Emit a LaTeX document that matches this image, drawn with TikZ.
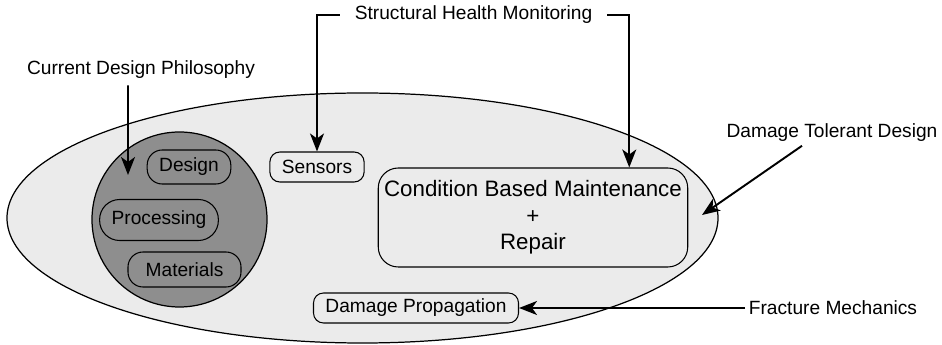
\documentclass[tikz,border=0pt]{standalone}
\usepackage{fontspec}
\setmainfont{Liberation Sans}
\usepackage{tikz}
\usetikzlibrary{arrows.meta, positioning, calc}
\definecolor{myshell}{RGB}{235,235,235}
\definecolor{mycore}{RGB}{142,142,142}
\definecolor{mydark}{RGB}{0,0,0}
\tikzset{
  pill/.style={rectangle, draw=mydark, fill=mycore, rounded corners=0.3cm,
    inner xsep=0.24cm, minimum height=0.68cm, line width=0.6pt},
  tag/.style={rectangle, draw=mydark, fill=myshell, rounded corners=0.2cm,
    inner xsep=0.24cm, minimum height=0.6cm, line width=0.6pt},
  bigbox/.style={rectangle, draw=mydark, fill=myshell, rounded corners=0.4cm,
    minimum width=6.12cm, minimum height=1.98cm, align=center,
    font=\fontsize{12.7}{15}\selectfont, line width=0.6pt},
  label/.style={inner sep=2pt},
  arrow/.style={-{Stealth[length=0.36cm, width=0.28cm, inset=0.1cm]},
    line width=1.1pt, color=mydark},
  line/.style={line width=1.1pt, color=mydark}
}

\begin{document}
\begin{tikzpicture}[every node/.style={font=\fontsize{10.9}{13}\selectfont}]
  \useasboundingbox (0,0) rectangle (18.84,6.9);

  % Shell and core
  \draw[fill=myshell, line width=0.7pt] (7.25,2.54) ellipse (7.11cm and 2.5cm);
  \draw[fill=mycore, line width=0.7pt] (3.59,2.51) circle (1.75cm);

  % Core items
  \node[pill] (design) at (3.78, 3.56) {Design};
  \node[pill, minimum height=0.82cm, rounded corners=0.4cm] (processing) at (3.18, 2.50) {Processing};
  \node[pill, minimum width=2.26cm, minimum height=0.70cm] (materials) at (3.69, 1.51) {Materials};

  % Shell items
  \node[tag] (sensors) at (6.34, 3.56) {Sensors};
  \node[bigbox] (cbm) at (10.66, 2.55) {Condition Based Maintenance\\+\\Repair};
  \node[tag] (damprop) at (8.32, 0.74) {Damage Propagation};

  % Outside labels
  \node[label] (shm) at (9.47, 6.6) {Structural Health Monitoring};
  \node[label] (cdp) at (2.82, 5.5) {Current Design Philosophy};
  \node[label] (dtd) at (16.64, 4.24) {Damage Tolerant Design};
  \node[label] (fm) at (16.66, 0.74) {Fracture Mechanics};

  % Free ends
  \coordinate (shm_l) at ([xshift=-0.22cm]shm.west);
  \coordinate (shm_r) at ([xshift=0.22cm]shm.east);
  \coordinate (cdp_out) at ([xshift=-0.26cm, yshift=-0.05cm]cdp.south);
  \coordinate (cdp_tip) at (2.56, 3.4);
  \coordinate (dtd_out) at ([xshift=-0.6cm]dtd.south);
  \coordinate (dtd_tip) at (14.04, 2.6);

  % Connections
  \draw[arrow] (shm_l) -| (sensors.north);
  \draw[arrow] (shm_r) -| ([xshift=-1.18cm]cbm.north east);
  \draw[arrow] (cdp_out) -- (cdp_tip);
  \draw[arrow] (dtd_out) -- (dtd_tip);
  \draw[arrow] (fm.west) -- (damprop.east);
\end{tikzpicture}
\end{document}
